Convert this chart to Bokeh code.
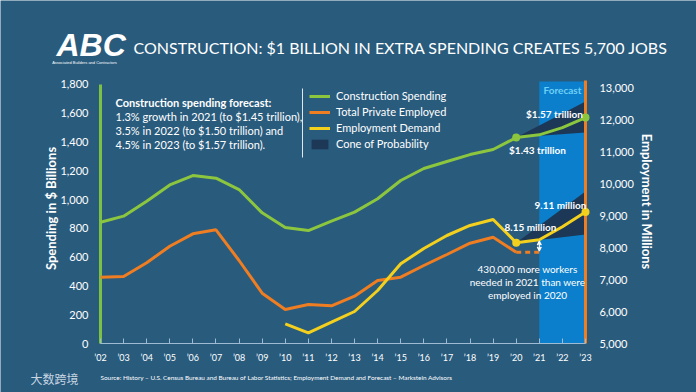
import math
from bokeh.plotting import figure
from bokeh.models import (Range1d, LinearAxis, FixedTicker, Label, Legend, LegendItem,
                          Arrow, VeeHead, NumeralTickFormatter)
from bokeh.embed import file_html
from bokeh.resources import INLINE

# ---------------- data ----------------
years = list(range(2002, 2024))
spending = [843, 885, 989, 1102, 1167, 1149, 1070, 908, 806, 785, 850, 913,
            1006, 1133, 1216, 1265, 1313, 1348, 1431, 1450, 1500, 1570]   # $ billions
emp_years = list(range(2002, 2021))
employed = [7072, 7094, 7522, 8040, 8428, 8553, 7594, 6573, 6063, 6219, 6178,
            6479, 6969, 7072, 7438, 7781, 8134, 8322, 7853]               # thousands
gap_years = [2020, 2021]
gap_level = [7853, 7853]
demand_years = list(range(2010, 2024))
demand = [5616, 5334, 5666, 6000, 6656, 7490, 7969, 8375, 8688, 8875, 8150, 8240, 8650, 9110]
spend_marks_x = [2020, 2023]
spend_marks_y = [1431, 1570]
demand_marks_x = [2020, 2023]
demand_marks_y = [8150, 9110]
spend_cone_x = [2020, 2023, 2023]
spend_cone_y = [1431, 1682, 1466]
demand_cone_x = [2020, 2023, 2023]
demand_cone_y = [8150, 9750, 8406]
forecast_start, forecast_end = 2021, 2023
left_ticks = [0, 200, 400, 600, 800, 1000, 1200, 1400, 1600, 1800]
right_ticks = [5000, 6000, 7000, 8000, 9000, 10000, 11000, 12000, 13000]
year_labels = {y: "\u2019%02d" % (y % 100) for y in years}

BG = "#295b7d"
GREEN = "#8cc63f"
ORANGE = "#ef7d22"
YELLOW = "#f4d01e"
FBLUE = "#0b7fcc"
CONE = "#1c3856"
FONT = "Lato"

# pixel -> data helpers (layout positions only)
def dx(px):
    return 2002 + (px - 100) / 23.095

def dy(py):
    return (343 - py) / 0.14389

def de(py):
    return 5000 + (343 - py) * 31.25

p = figure(width=696, height=392, output_backend="svg", toolbar_location=None,
           x_range=Range1d(dx(0), dx(696)), y_range=Range1d(dy(392), dy(0)),
           min_border_left=0, min_border_right=0, min_border_top=0, min_border_bottom=0)
p.extra_y_ranges = {"emp": Range1d(de(392), de(0))}
p.background_fill_color = BG
p.border_fill_color = BG
p.outline_line_color = None
p.xgrid.grid_line_color = None
p.ygrid.grid_line_color = None

# forecast band
p.quad(left=[forecast_start], right=[forecast_end], bottom=[0], top=[dy(81)],
       fill_color=FBLUE, line_color=None)

# cones
spend_cone = p.patch(spend_cone_x, spend_cone_y, fill_color=CONE, line_color=None)
p.patch(demand_cone_x, demand_cone_y, fill_color=CONE, line_color=None, y_range_name="emp")

# axis lines
p.segment(x0=[years[0]], y0=[0], x1=[years[0]], y1=[left_ticks[-1]], line_color="#7dc142", line_width=3)
p.segment(x0=[years[-1]], y0=[0], x1=[years[-1]], y1=[dy(80)], line_color=ORANGE, line_width=3)

# series
g = p.line(years, spending, line_color=GREEN, line_width=3)
o = p.line(emp_years, employed, line_color=ORANGE, line_width=3, y_range_name="emp")
p.line(gap_years, gap_level, line_color=ORANGE, line_width=3, line_dash="5 4", y_range_name="emp")
yl = p.line(demand_years, demand, line_color=YELLOW, line_width=3, y_range_name="emp")
p.scatter(spend_marks_x, spend_marks_y, size=8, fill_color=GREEN, line_color=None)
p.scatter(demand_marks_x, demand_marks_y, size=8, fill_color=YELLOW, line_color=None, y_range_name="emp")

p.add_layout(Arrow(start=VeeHead(size=4, line_color="white", line_width=1.2),
                   end=VeeHead(size=4, line_color="white", line_width=1.2),
                   x_start=2021, y_start=gap_level[1] + 40, x_end=2021, y_end=demand[11] - 40,
                   line_color="white", line_width=1.2, y_range_name="emp"))

# axes (fixed inside the full-canvas frame)
xa = p.xaxis[0]
xa.fixed_location = 0
xa.bounds = (years[0], years[-1])
xa.ticker = FixedTicker(ticks=years)
xa.major_label_overrides = year_labels
xa.axis_line_color = "#9fbbd3"
xa.major_tick_line_color = "#9fbbd3"
xa.major_tick_in = 5
xa.major_tick_out = 0
xa.minor_tick_line_color = None
xa.major_label_standoff = 8
xa.major_label_text_font = FONT
xa.major_label_text_font_size = "9px"
xa.major_label_text_color = "white"

ya = p.yaxis[0]
ya.fixed_location = years[0]
ya.ticker = FixedTicker(ticks=left_ticks)
ya.formatter = NumeralTickFormatter(format="0,0")
ya.axis_line_color = None
ya.major_tick_line_color = None
ya.minor_tick_line_color = None
ya.major_label_standoff = 6
ya.major_label_text_font = FONT
ya.major_label_text_font_size = "11px"
ya.major_label_text_color = "white"

ra = LinearAxis(y_range_name="emp", ticker=FixedTicker(ticks=right_ticks),
                formatter=NumeralTickFormatter(format="0,0"))
ra.fixed_location = years[-1]
ra.axis_line_color = None
ra.major_tick_line_color = None
ra.minor_tick_line_color = None
ra.major_label_standoff = 8
ra.major_label_text_font = FONT
ra.major_label_text_font_size = "11px"
ra.major_label_text_color = "white"
p.add_layout(ra, "right")

# legend
legend = Legend(items=[LegendItem(label="Construction Spending", renderers=[g]),
                       LegendItem(label="Total Private Employed", renderers=[o]),
                       LegendItem(label="Employment Demand", renderers=[yl]),
                       LegendItem(label="Cone of Probability", renderers=[spend_cone])],
                location=(309, 242), padding=0, margin=0, spacing=3,
                glyph_width=21, glyph_height=12, label_height=12, label_standoff=6,
                label_text_font=FONT, label_text_font_size="11px", label_text_color="white",
                background_fill_alpha=0, border_line_color=None)
p.add_layout(legend)

def lab(text, px, py, size, color="white", style="normal", align="left", font=FONT, angle=0.0):
    p.add_layout(Label(x=dx(px), y=dy(py), text=text, text_font=font, text_font_size=size,
                       text_color=color, text_font_style=style, text_align=align,
                       text_baseline="middle", angle=angle))

# axis titles
lab("Spending in $ Billions", 50, 208, "13px", style="bold", align="center", angle=math.pi / 2)
lab("Employment in Millions", 646, 201, "13px", style="bold", align="center", angle=-math.pi / 2)

# title / logo
lab("CONSTRUCTION: $1 BILLION IN EXTRA SPENDING CREATES 5,700 JOBS", 133, 47, "16px")
lab("ABC", 56, 44, "32px", style="bold italic", font="Liberation Sans")
lab("Associated Builders and Contractors", 84, 62, "4px", align="center", font="Liberation Sans")

# forecast text block
lab("Construction spending forecast:", 115, 102, "11px", style="bold")
lab("1.3% growth in 2021 (to $1.45 trillion),", 115, 116, "11px")
lab("3.5% in 2022 (to $1.50 trillion) and", 115, 130, "11px")
lab("4.5% in 2023 (to $1.57 trillion).", 115, 144, "11px")
p.segment(x0=[dx(302)], y0=[dy(88)], x1=[dx(302)], y1=[dy(157)], line_color="#dfe8ef", line_width=1)

lab("Forecast", 562, 89, "10px", color="#6fd0f5", style="bold", align="center")
lab("$1.57 trillion", 554, 113, "10px", style="bold", align="center")
lab("$1.43 trillion", 537, 149, "10px", style="bold", align="center")
lab("9.11 million", 560, 204, "10px", style="bold", align="center")
lab("8.15 million", 530, 226, "10px", style="bold", align="center")
lab("430,000 more workers", 527, 268, "10px", align="center")
lab("needed in 2021 than were", 527, 281, "10px", align="center")
lab("employed in 2020", 527, 294, "10px", align="center")

lab("Source:  History \u2013 U.S. Census Bureau and Bureau of Labor Statistics;  Employment Demand and Forecast \u2013 Markstein Advisors",
    100, 377, "6.4px", font=FONT)
lab("\u5927\u6570\u8de8\u5883", 30, 378, "12px", color="#c8d6e3", font="Noto Sans CJK SC")

html = file_html(p, INLINE)
html = html.replace("<body>", '<body style="background-color:%s;">' % BG, 1)
open("out.html", "w").write(html)
